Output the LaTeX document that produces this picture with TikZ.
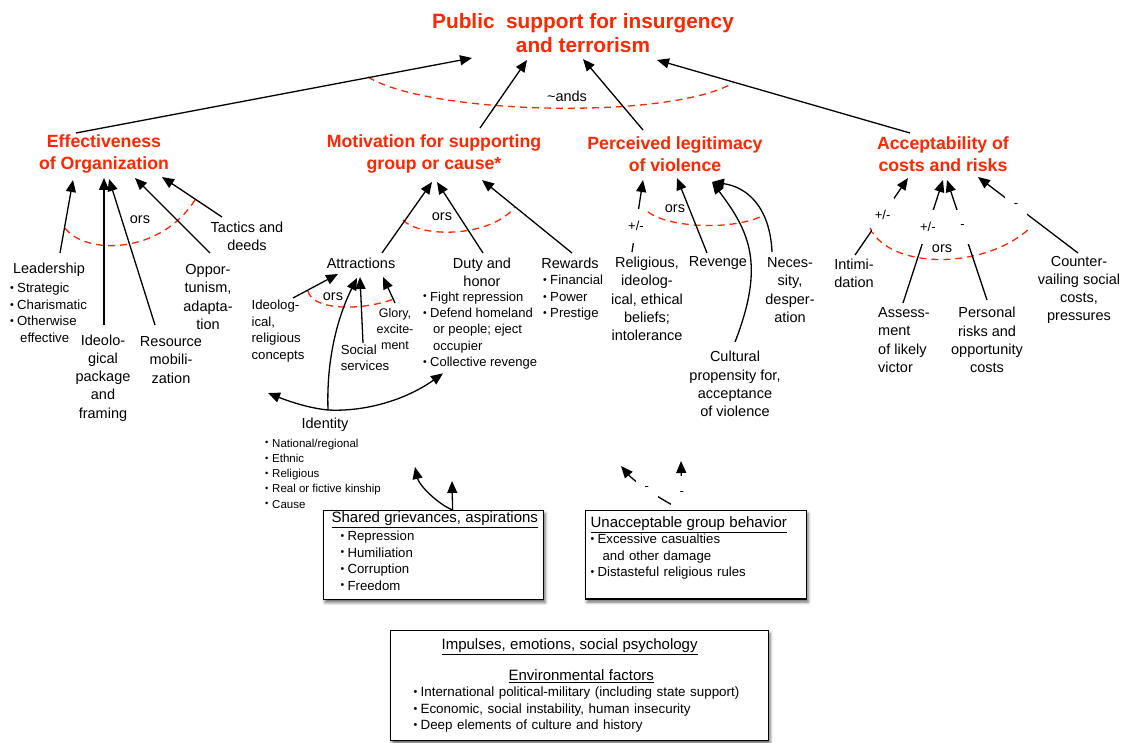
\documentclass[tikz,border=0pt]{standalone}
\usepackage{fontspec}
\setmainfont{Liberation Sans}
\usepackage{graphicx}
\usepackage{xcolor}
\usepackage{tikz}
\usetikzlibrary{arrows.meta, shadows.blur}

\definecolor{hdred}{RGB}{255,38,0}
\newcommand{\itm}{\makebox[7pt][l]{\raisebox{0.2ex}{\scalebox{0.8}{\textbullet}}}}

\begin{document}
\begin{tikzpicture}[x=1pt, y=-1pt,
                goal/.style={font=\fontsize{20.8}{24.5}\selectfont\bfseries, text=hdred, align=center, inner sep=1pt},
                head/.style={font=\fontsize{17.7}{21.5}\selectfont\bfseries, text=hdred, align=center, inner sep=1pt},
                factor/.style={font=\fontsize{14.5}{18.2}\selectfont, align=center, inner sep=1pt},
                bullets/.style={font=\fontsize{13.2}{16.5}\selectfont, align=left, inner sep=1pt},
                minilist/.style={font=\fontsize{11.5}{15.25}\selectfont, align=left, inner sep=1pt},
                box/.style={draw, line width=1.2pt, fill=white, align=left, inner xsep=0pt,
                            font=\fontsize{13.2}{16.4}\selectfont,
                            blur shadow={shadow xshift=1.5pt, shadow yshift=-3pt, shadow blur radius=3pt, shadow opacity=60}},
                arrow/.style={-{Triangle[length=12pt, width=10pt]}, line width=1.3pt},
                orarc/.style={draw=hdred, line width=1.3pt, dash pattern=on 7pt off 5pt},
                sign/.style={fill=white, inner sep=0pt, minimum width=22pt, minimum height=34pt, font=\fontsize{13}{15}\selectfont}
            ]
            \useasboundingbox (0,0) rectangle (1124,743);

            % Nodes
            \node[goal] (pub) at (583,33) {Public~ support for insurgency\\and terrorism};
            \node[factor] (ands) at (567,96) {\textasciitilde ands};

            \node[head] (eff) at (104,154) {Effectiveness\\of Organization};
            \node[head] (mot) at (434,154) {Motivation for supporting\\group or cause*};
            \node[head] (leg) at (675,154) {Perceived legitimacy\\of violence};
            \node[head] (acc) at (943,154) {Acceptability of\\costs and risks};

            % Effectiveness of Organization
            \node[factor] (lead) at (49,270) {Leadership};
            \node[bullets, anchor=west] (leadlst) at (9,313) {\itm Strategic\\\itm Charismatic\\\itm Otherwise\\\hspace*{10pt}effective};
            \node[factor] (ideo) at (103,378) {Ideolo-\\gical\\package\\and\\framing};
            \node[factor] (res) at (171,360) {Resource\\mobili-\\zation};
            \node[factor] (opp) at (208,297) {Oppor-\\tunism,\\adapta-\\tion};
            \node[factor] (tac) at (247,236) {Tactics and\\deeds};
            \node[factor] (ors1) at (140,220) {ors};

            % Motivation
            \node[factor] (attr) at (361,263) {Attractions};
            \node[factor] (duty) at (482,272) {Duty and\\honor};
            \node[bullets, font=\fontsize{13}{16.3}\selectfont, anchor=west] (dutylst) at (422,330.5)
                {\itm Fight repression\\\itm Defend homeland\\\hspace*{10pt}or people; eject\\\hspace*{10pt}occupier\\\itm Collective revenge};
            \node[factor] (rew) at (570,263) {Rewards};
            \node[bullets, anchor=west] (rewlst) at (542,298) {\itm Financial\\\itm Power\\\itm Prestige};
            \node[factor] (ors2) at (442,217) {ors};

            \node[bullets] (idc) at (278,331) {Ideolog-\\ical,\\religious\\concepts};
            \node[bullets] (soc) at (365,358) {Social\\services};
            \node[factor, font=\fontsize{12.5}{16}\selectfont] (glo) at (395,329) {Glory,\\excite-\\ment};
            \node[factor] (ors3) at (333,297) {ors};

            \node[factor] (iden) at (325,425) {Identity};
            \node[minilist, anchor=west] (idenlst) at (264,473.5)
                {\itm National/regional\\\itm Ethnic\\\itm Religious\\\itm Real or fictive kinship\\\itm Cause};

            % Perceived legitimacy
            \node[factor] (rel) at (647,299) {Religious,\\ideolog-\\ical, ethical\\beliefs;\\intolerance};
            \node[factor] (rev) at (718,263) {Revenge};
            \node[factor] (nec) at (790,290) {Neces-\\sity,\\desper-\\ation};
            \node[factor] (cul) at (735,384) {Cultural\\propensity for,\\acceptance\\of violence};
            \node[factor] (ors4) at (675,209) {ors};

            % Acceptability of costs
            \node[factor] (intim) at (854,273) {Intimi-\\dation};
            \node[factor, align=left] (ass) at (904,340) {Assess-\\ment\\of likely\\victor};
            \node[factor] (pers) at (987,340) {Personal\\risks and\\opportunity\\costs};
            \node[factor] (coun) at (1079,290) {Counter-\\vailing social\\costs,\\pressures};
            \node[factor] (ors5) at (942,249) {ors};

            % Boxes
            \node[box, anchor=north west, text width=220pt, inner ysep=1pt] (sg) at (323,510)
                {\hspace*{8pt}{\fontsize{15}{16.4}\selectfont\underline{Shared grievances, aspirations}}\\[2pt]
                 \hspace*{17pt}\itm Repression\\\hspace*{17pt}\itm Humiliation\\\hspace*{17pt}\itm Corruption\\\hspace*{17pt}\itm Freedom\\[-8pt]\mbox{}};
            \node[box, anchor=north west, text width=221pt, inner ysep=6pt] (ub) at (585,510)
                {\hspace*{5pt}{\fontsize{15}{16.4}\selectfont\underline{Unacceptable group behavior}}\\
                 \hspace*{5pt}\itm Excessive casualties\\\hspace*{17pt}and other damage\\\hspace*{5pt}\itm Distasteful religious rules\\\mbox{}};
            \node[box, anchor=north west, text width=378pt, inner ysep=8pt, font=\fontsize{13.4}{16.5}\selectfont] (imp) at (390,630)
                {\hspace*{51pt}{\fontsize{15}{16.5}\selectfont\underline{Impulses, emotions, social psychology}}\\[14.5pt]
                 \hspace*{118pt}{\fontsize{15}{16.5}\selectfont\underline{Environmental factors}}\\
                 \hspace*{23pt}\itm International political-military (including state support)\\
                 \hspace*{23pt}\itm Economic, social instability, human insecurity\\
                 \hspace*{23pt}\itm Deep elements of culture and history};

            % Free arrow ends
            \coordinate (sgup) at (452,481);
            \coordinate (sgleft) at (415,467);
            \coordinate (ubup) at (681,461);
            \coordinate (ubleft) at (621,466);

            % Or-arcs
            \draw[orarc] (368,77) .. controls (430,115) and (670,120) .. (733,83);
            \draw[orarc] (65,228) .. controls (85,255) and (160,255) .. (195,200);
            \draw[orarc] (403,220) .. controls (420,238) and (490,238) .. (515,207);
            \draw[orarc] (308,291) .. controls (312,310) and (360,312) .. (397,298);
            \draw[orarc] (648,212) .. controls (670,228) and (730,230) .. (760,217);
            \draw[orarc] (870,228) .. controls (890,270) and (985,270) .. (1030,228);

            % Edges to the goal
            \draw[arrow] ([shift={(-28,-21)}]eff.center) -- ([shift={(-111,25)}]pub.center);
            \draw[arrow] ([shift={(46,-26)}]mot.center) -- ([shift={(-56,27)}]pub.center);
            \draw[arrow] ([shift={(-32,-24)}]leg.center) -- ([shift={(0,26)}]pub.center);
            \draw[arrow] ([shift={(-33,-21)}]acc.center) -- ([shift={(74,27)}]pub.center);

            % Edges to effectiveness
            \draw[arrow] ([shift={(11,-17)}]lead.center) -- ([shift={(-31,26)}]eff.center);
            \draw[arrow] ([shift={(1,-53)}]ideo.center) -- ([shift={(0,24)}]eff.center);
            \draw[arrow] ([shift={(-16,-35)}]res.center) -- ([shift={(5,25)}]eff.center);
            \draw[arrow] ([shift={(2,-44)}]opp.center) -- ([shift={(31,24)}]eff.center);
            \draw[arrow] ([shift={(-25,-19)}]tac.center) -- ([shift={(58,23)}]eff.center);

            % Edges to motivation
            \draw[arrow] ([shift={(21,-10)}]attr.center) -- ([shift={(-2,28)}]mot.center);
            \draw[arrow] ([shift={(1,-19)}]duty.center) -- ([shift={(3,28)}]mot.center);
            \draw[arrow] ([shift={(2,-10)}]rew.center) -- ([shift={(48,26)}]mot.center);
            \draw[arrow] ([shift={(15,-33)}]idc.center) -- ([shift={(-23,11)}]attr.center);
            \draw[arrow] ([shift={(-2,-15)}]soc.center) -- ([shift={(-1,14)}]attr.center);
            \draw[arrow] ([shift={(0,-26)}]glo.center) -- ([shift={(22,14)}]attr.center);

            % Identity
            \draw[arrow] ([shift={(3,-15)}]iden.center) .. controls +(-20,-2) and +(20,8) .. ([shift={(-10,62)}]idc.center);
            \draw[arrow] ([shift={(3,-15)}]iden.center) .. controls +(-2,-60) and +(-15,30) .. ([shift={(-4,15)}]attr.center);
            \draw[arrow] ([shift={(3,-15)}]iden.center) .. controls +(40,2) and +(-35,25) .. ([shift={(21,3)}]dutylst.south west);

            % Box arrows
            \draw[arrow] ([xshift=19pt]sg.north) -- (sgup);
            \draw[arrow] ([xshift=19pt]sg.north) .. controls +(-15,-6) and +(4,18) .. (sgleft);
            \draw[arrow] ([xshift=-14pt]ub.north) .. controls +(-25,-12) and +(12,14) .. node[sign, pos=0.5] {-} (ubleft);
            \draw[arrow] ([xshift=-14pt]ub.north) -- node[sign, pos=0.34] {-} (ubup);

            % Edges to legitimacy
            \draw[arrow] ([shift={(-15,-47)}]rel.center) -- node[sign, pos=0.36] {+/-} ([shift={(-32,26)}]leg.center);
            \draw[arrow] ([shift={(-11,-10)}]rev.center) -- ([shift={(2,24)}]leg.center);
            \draw[arrow] ([shift={(-18,-38)}]nec.center) .. controls +(-2,-45) and +(35,5) .. ([shift={(37,28)}]leg.center);
            \draw[arrow] ([shift={(0,-42)}]cul.center) .. controls +(30,-77) and +(38,50) .. ([shift={(37,28)}]leg.center);

            % Edges to acceptability
            \draw[arrow] ([shift={(1,-18)}]intim.center) -- node[sign, pos=0.52] {+/-} ([shift={(-35,24)}]acc.center);
            \draw[arrow] ([shift={(-1,-37)}]ass.center) -- node[sign, pos=0.62] {+/-} ([shift={(0,26)}]acc.center);
            \draw[arrow] ([shift={(0,-40)}]pers.center) -- node[sign, pos=0.61] {-} ([shift={(4,26)}]acc.center);
            \draw[arrow] ([shift={(-1,-37)}]coun.center) -- node[sign, pos=0.62] {-} ([shift={(35,23)}]acc.center);
            \end{tikzpicture}
\end{document}
